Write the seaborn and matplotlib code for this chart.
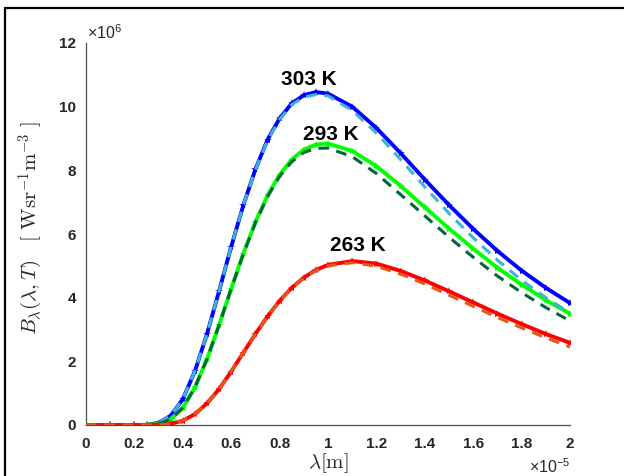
import numpy as np
import pandas as pd
import seaborn as sns
import matplotlib.pyplot as plt
from matplotlib.lines import Line2D

# wavelength in units of 1e-5 m, radiance in units of 1e6 W sr^-1 m^-3
lam = [0, 0.1, 0.2, 0.25, 0.3, 0.35, 0.4, 0.45, 0.5, 0.55, 0.6, 0.65, 0.7, 0.75,
       0.8, 0.85, 0.9, 0.95, 1.0, 1.1, 1.2, 1.3, 1.4, 1.5, 1.6, 1.7, 1.8, 1.9, 2.0]

# measured curves (stars)
meas_303 = [0, 0, 0, 0.005, 0.066, 0.29, 0.81, 1.69, 2.86, 4.21, 5.60, 6.90, 8.03, 8.96,
            9.63, 10.10, 10.36, 10.46, 10.41, 10.00, 9.33, 8.54, 7.71, 6.91, 6.16, 5.47,
            4.85, 4.31, 3.83]
meas_293 = [0, 0, 0, 0.002, 0.038, 0.18, 0.54, 1.18, 2.07, 3.14, 4.28, 5.38, 6.37, 7.21,
            7.86, 8.34, 8.65, 8.81, 8.84, 8.61, 8.13, 7.51, 6.84, 6.17, 5.54, 4.94,
            4.41, 3.92, 3.50]
meas_263 = [0, 0, 0, 0, 0.006, 0.037, 0.134, 0.34, 0.68, 1.13, 1.68, 2.27, 2.86, 3.41,
            3.90, 4.31, 4.63, 4.87, 5.03, 5.15, 5.07, 4.84, 4.54, 4.20, 3.85, 3.50,
            3.17, 2.86, 2.58]

# fitted curves (dashed)
fit_303 = [0, 0, 0, 0.005, 0.066, 0.29, 0.81, 1.69, 2.86, 4.21, 5.60, 6.90, 8.02, 8.94,
           9.60, 10.06, 10.30, 10.38, 10.34, 9.88, 9.17, 8.34, 7.48, 6.65, 5.88, 5.18,
           4.55, 4.00, 3.52]
fit_293 = [0, 0, 0, 0.002, 0.038, 0.18, 0.54, 1.18, 2.07, 3.14, 4.28, 5.37, 6.35, 7.17,
           7.81, 8.27, 8.56, 8.69, 8.70, 8.43, 7.90, 7.24, 6.57, 5.90, 5.27, 4.68,
           4.16, 3.69, 3.27]
fit_263 = [0, 0, 0, 0, 0.006, 0.037, 0.134, 0.34, 0.68, 1.13, 1.68, 2.27, 2.86, 3.41,
           3.90, 4.30, 4.62, 4.85, 5.00, 5.10, 4.99, 4.74, 4.43, 4.08, 3.73, 3.38,
           3.05, 2.74, 2.45]

temps = ['303 K', '293 K', '263 K']
label_x = [0.92, 1.01, 1.125]
label_y = [10.84, 9.14, 5.65]
meas_colors = ['#0000ff', '#00ff00', '#ff0000']
fit_colors = ['#3fb3d6', '#00663a', '#e2571a']

sns.set_style('white')
plt.rcParams['font.family'] = ['Liberation Sans', 'DejaVu Sans']
plt.rcParams['mathtext.fontset'] = 'cm'

fig = plt.figure(figsize=(6.24, 4.76), dpi=100)
ax = fig.add_axes([86 / 624, 1 - 425 / 476, 484 / 624, 382 / 476])

for meas, fit, mc, fc in zip([meas_303, meas_293, meas_263], [fit_303, fit_293, fit_263],
                             meas_colors, fit_colors):
    sns.lineplot(x=lam, y=meas, ax=ax, color=mc, lw=2.8, marker='*', markersize=6,
                 markeredgewidth=0, zorder=2)
    sns.lineplot(x=lam, y=fit, ax=ax, color=fc, lw=2.2, dashes=(3.5, 2.5), zorder=3)

# temperature labels
for t, tx, ty in zip(temps, label_x, label_y):
    ax.text(tx, ty, t, fontsize=15, fontweight='bold', ha='center', va='center',
            color='black')

ax.set_xlim(0, 2)
ax.set_ylim(0, 12)
ax.set_xticks([0, 0.2, 0.4, 0.6, 0.8, 1, 1.2, 1.4, 1.6, 1.8, 2])
ax.set_xticklabels(['0', '0.2', '0.4', '0.6', '0.8', '1', '1.2', '1.4', '1.6', '1.8', '2'])
ax.set_yticks([0, 2, 4, 6, 8, 10, 12])
ax.set_yticklabels(['0', '2', '4', '6', '8', '10', '12'])
ax.tick_params(direction='in', length=5, width=0.8, color='#4d4d4d', labelsize=11,
               labelcolor='#262626')
ax.tick_params(axis='x', pad=9)
ax.tick_params(axis='y', pad=7)
for lbl in ax.get_xticklabels() + ax.get_yticklabels():
    lbl.set_fontweight('bold')
sns.despine(ax=ax)
for s in ['left', 'bottom']:
    ax.spines[s].set_color('#4d4d4d')
    ax.spines[s].set_linewidth(0.9)

ax.set_xlabel(r'$\lambda[\mathrm{m}]$', fontsize=15, labelpad=0)
ax.set_ylabel(r'$B_\lambda(\lambda,T)\quad[\ \mathrm{Wsr}^{-1}\mathrm{m}^{-3}\ ]$',
              fontsize=15)
ax.yaxis.set_label_coords(-0.085, 0.515)

ax.text(0.003, 1.003, r'$\mathdefault{\times10^{6}}$', transform=ax.transAxes,
        fontsize=11.5, ha='left', va='bottom', color='#262626')
ax.text(1.0, -0.085, r'$\mathdefault{\times10^{-5}}$', transform=ax.transAxes,
        fontsize=11.5, ha='right', va='top', color='#262626')

# frame lines of the captured window
fig.add_artist(Line2D([5 / 624, 1], [1 - 8 / 476, 1 - 8 / 476], color='black', lw=1.6))
fig.add_artist(Line2D([5 / 624, 5 / 624], [0, 1 - 8 / 476], color='black', lw=1.6))

fig.savefig('out.png', dpi=100)
